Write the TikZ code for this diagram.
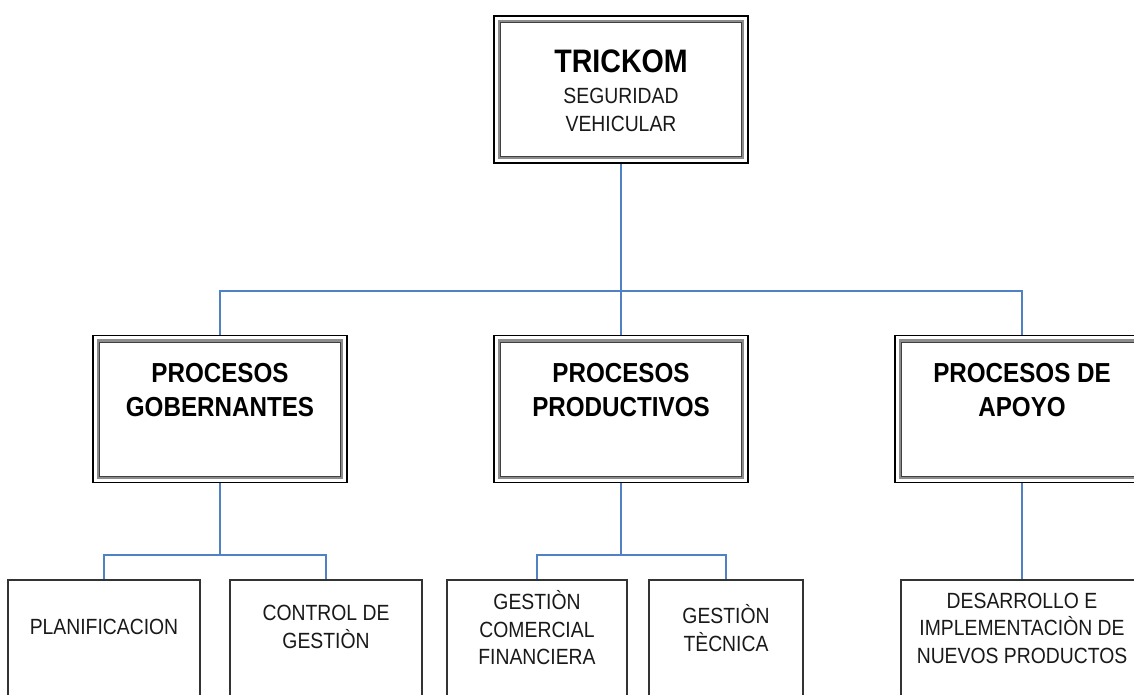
\documentclass[tikz,border=0pt]{standalone}
\usepackage{fontspec}
\setmainfont{Liberation Sans}[FakeStretch=0.88]
\usetikzlibrary{calc}

\definecolor{linkblue}{RGB}{79,129,196}

\tikzset{
  outerbox/.style={draw=black, line width=1.6pt, fill=white, inner sep=0pt,
    minimum width=254pt, minimum height=147pt},
  leafbox/.style={draw=black!80, line width=1.8pt, fill=white, inner sep=0pt,
    minimum height=140pt},
  innerframe/.style={draw=black!45, line width=2.6pt},
  innerrule/.style={draw=black!75, line width=0.8pt},
  conn/.style={draw=linkblue, line width=1.8pt},
  titletext/.style={inner sep=0pt, align=center, font=\bfseries\fontsize{32.5}{38}\selectfont},
  headtext/.style={inner sep=0pt, align=center, font=\bfseries\fontsize{27.5}{34.5}\selectfont},
  subtext/.style={inner sep=0pt, align=center, text=black!90, font=\fontsize{22}{27.5}\selectfont},
}

\begin{document}
\begin{tikzpicture}[x=1pt, y=-1pt]
\useasboundingbox (0,0) rectangle (1134,695);
\clip (0,0) rectangle (1134,695);

% framed boxes: root and the three process groups
\node[outerbox] (top)  at (621,89.5) {};
\node[outerbox] (gob)  at (220,409) {};
\node[outerbox] (prod) at (621,409) {};
\node[outerbox] (apo)  at (1022,409) {};

% second, inner frame of the double border
\foreach \b in {top,gob,prod,apo}{
  \draw[innerframe] ($(\b.north west)+(6,6)$) rectangle ($(\b.south east)+(-6,-6)$);
  \draw[innerrule] ($(\b.north west)+(7.2,7.2)$) rectangle ($(\b.south east)+(-7.2,-7.2)$);
}

% leaf boxes
\node[leafbox, minimum width=192pt] (plan) at (104,650) {};
\node[leafbox, minimum width=192pt] (ctrl) at (326,650) {};
\node[leafbox, minimum width=180pt] (com)  at (537,650) {};
\node[leafbox, minimum width=154pt] (tec)  at (726,650) {};
\node[leafbox, minimum width=242pt] (des)  at (1022,650) {};

% texts
\node[titletext] (ttl) at (621,61) {TRICKOM};
\node[subtext] (ttlsub) at (621,110) {SEGURIDAD\\VEHICULAR};
\node[headtext] (gobt)  at (220,390) {PROCESOS\\GOBERNANTES};
\node[headtext] (prodt) at (621,390) {PROCESOS\\PRODUCTIVOS};
\node[headtext] (apot)  at (1022,390) {PROCESOS DE\\APOYO};
\node[subtext] (plant) at (104,627) {PLANIFICACION};
\node[subtext] (ctrlt) at (326,627) {CONTROL DE\\GESTIÒN};
\node[subtext] (comt)  at (537,628) {GESTIÒN\\COMERCIAL\\FINANCIERA};
\node[subtext] (tect)  at (726,628) {GESTIÒN\\TÈCNICA};
\node[subtext] (dest)  at (1022,628) {DESARROLLO E\\IMPLEMENTACIÒN DE\\NUEVOS PRODUCTOS};

% connectors
\coordinate (bus1) at (621,291);
\coordinate (bus2) at (0,555);
\draw[conn] (top.south) -- (prod.north);
\draw[conn] (gob.north) -- (gob.north |- bus1) -- (apo.north |- bus1) -- (apo.north);

\draw[conn] (gob.south) -- (gob.south |- bus2);
\draw[conn] (plan.north) -- (plan.north |- bus2) -- (ctrl.north |- bus2) -- (ctrl.north);

\draw[conn] (prod.south) -- (prod.south |- bus2);
\draw[conn] (com.north) -- (com.north |- bus2) -- (tec.north |- bus2) -- (tec.north);

\draw[conn] (apo.south) -- (des.north);
\end{tikzpicture}
\end{document}
